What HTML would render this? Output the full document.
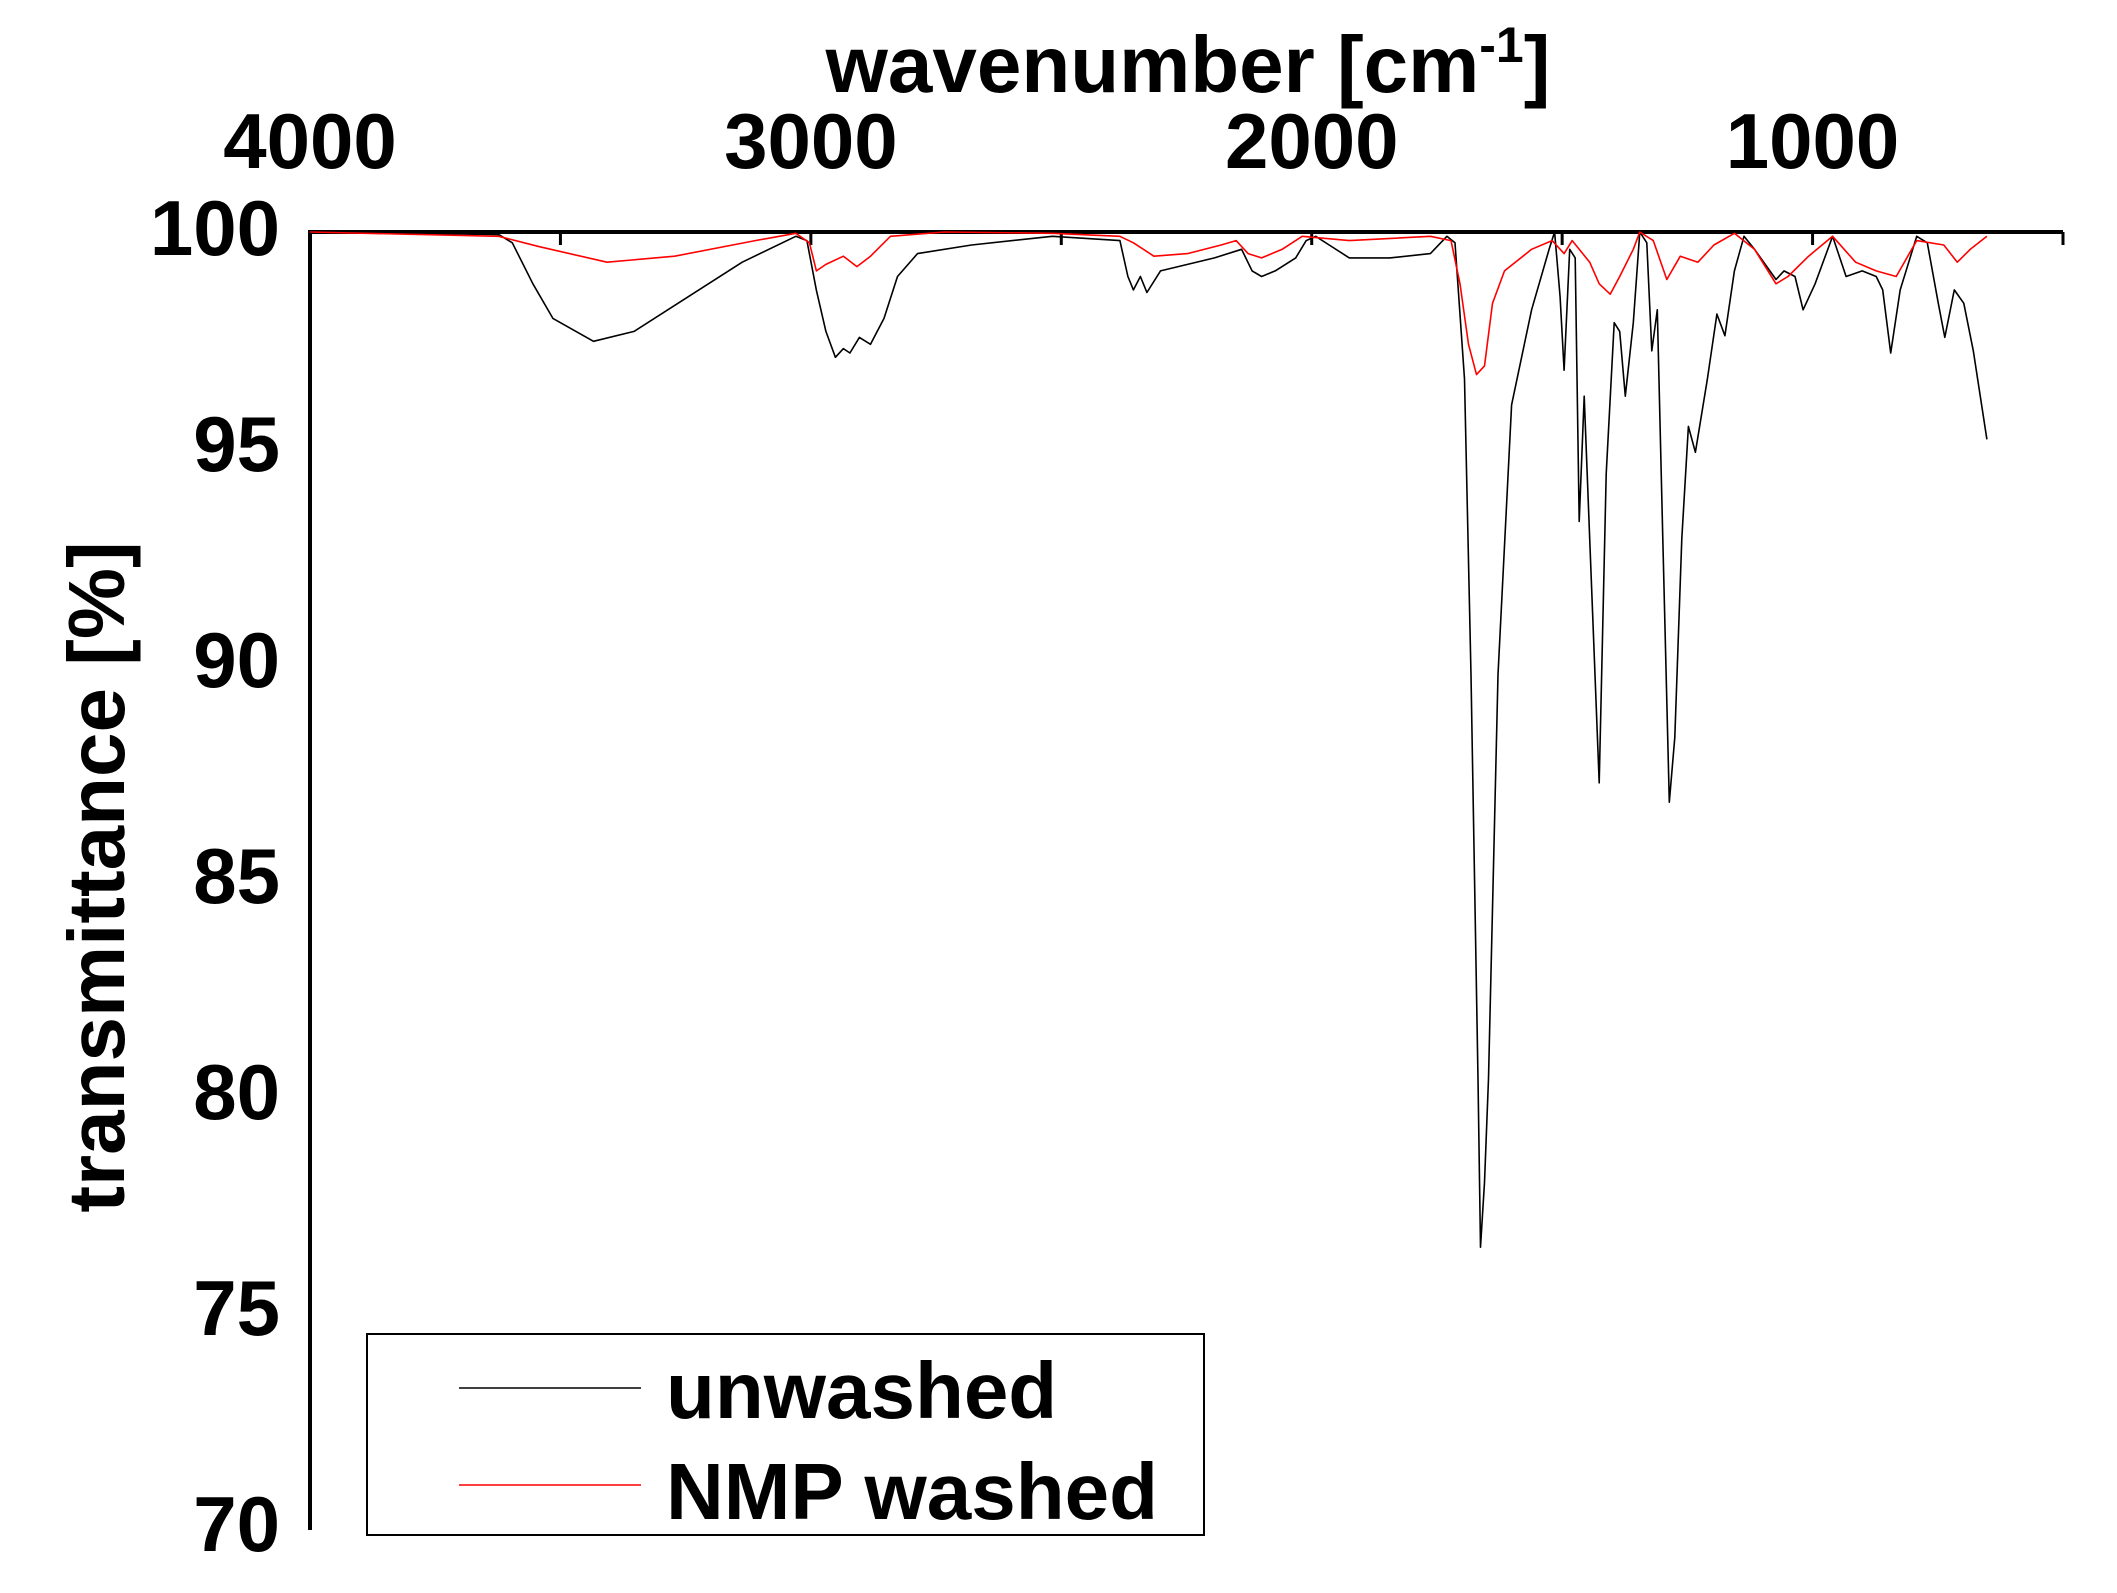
<!DOCTYPE html>
<html><head><meta charset="utf-8"><style>
html,body{margin:0;padding:0;background:#fff}
svg{display:block}
text{font-family:"Liberation Sans",sans-serif;font-weight:bold;fill:#000}
</style></head><body>
<svg id="chart" width="2117" height="1593" viewBox="0 0 2117 1593" xmlns="http://www.w3.org/2000/svg">
<g id="axes"></g>
<g id="series"></g>
<text x="1188" y="92" font-size="80" text-anchor="middle">wavenumber [cm<tspan font-size="50" dy="-30">-1</tspan><tspan dy="30">]</tspan></text>
<text x="0" y="0" font-size="80" text-anchor="middle" transform="translate(124,877) rotate(-90)">transmittance [%]</text>
<g>
<rect x="367" y="1334" width="837" height="201" fill="#fff" stroke="#000" stroke-width="2"/>
<line x1="459" y1="1388" x2="641" y2="1388" stroke="#000" stroke-width="1.5"/>
<text x="666" y="1418" font-size="80">unwashed</text>
<line x1="459" y1="1485" x2="641" y2="1485" stroke="#f00" stroke-width="1.5"/>
<text x="666" y="1519" font-size="80">NMP washed</text>
</g>
</svg>
<script>
const xTicks=[4000,3500,3000,2500,2000,1500,1000,500];
const xTickLabels=["4000","","3000","","2000","","1000",""];
const yTicks=[100,95,90,85,80,75,70];
const yTickLabels=["100","95","90","85","80","75","70"];
const unwashedWn=[4000,3623,3596,3555,3515,3434,3353,3245,3137,3030,3008,2989,2970,2951,2935,2922,2903,2881,2854,2827,2787,2679,2518,2383,2367,2356,2342,2329,2302,2194,2140,2119,2100,2073,2032,2011,1992,1965,1925,1844,1763,1730,1714,1695,1682,1668,1663,1655,1647,1628,1601,1561,1526,1515,1504,1496,1485,1474,1466,1456,1445,1426,1412,1396,1385,1374,1358,1345,1331,1321,1310,1299,1286,1275,1261,1248,1234,1210,1191,1175,1156,1137,1116,1073,1057,1035,1019,995,960,933,901,873,860,844,825,792,771,749,736,717,698,679,652];
const unwashedT=[100,99.94,99.75,98.8,98.0,97.47,97.7,98.5,99.3,99.9,99.8,98.65,97.7,97.1,97.3,97.2,97.56,97.4,98.0,98.97,99.5,99.7,99.9,99.8,98.97,98.66,98.97,98.6,99.1,99.4,99.6,99.1,98.97,99.1,99.4,99.8,99.9,99.7,99.4,99.4,99.5,99.9,99.75,96.6,89.75,80.4,76.5,78.0,80.4,89.75,96.0,98.2,99.6,100,98.5,96.8,99.6,99.4,93.3,96.2,92.9,87.25,94.4,97.9,97.7,96.2,97.9,100,99.75,97.25,98.2,92.9,86.8,88.3,92.9,95.5,94.9,96.6,98.1,97.6,99.1,99.9,99.6,98.9,99.1,98.97,98.2,98.8,99.9,98.97,99.1,98.97,98.66,97.2,98.66,99.9,99.75,98.35,97.56,98.66,98.35,97.25,95.2];
const nmpWn=[4000,3623,3542,3407,3272,3111,3030,3003,2989,2970,2935,2908,2881,2841,2733,2518,2383,2356,2315,2248,2181,2151,2127,2100,2059,2019,1925,1763,1722,1704,1687,1671,1655,1639,1615,1561,1520,1496,1480,1445,1426,1404,1385,1358,1345,1318,1291,1264,1229,1197,1156,1116,1073,1049,1008,960,914,873,833,792,738,711,685,652];
const nmpT=[100,99.9,99.66,99.3,99.44,99.8,99.97,99.75,99.1,99.25,99.44,99.2,99.44,99.9,100,99.97,99.9,99.75,99.44,99.5,99.7,99.8,99.5,99.4,99.6,99.9,99.8,99.9,99.8,98.8,97.4,96.7,96.9,98.35,99.1,99.6,99.8,99.5,99.8,99.3,98.8,98.56,98.97,99.6,100,99.8,98.9,99.44,99.3,99.7,99.97,99.6,98.8,98.97,99.44,99.9,99.3,99.1,98.97,99.8,99.7,99.3,99.6,99.9];

const NS="http://www.w3.org/2000/svg";
const X0=310,X1=2063,Y0=232,Y1=1528;
function xs(w){return X0+(4000-w)/(4000-500)*(X1-X0);}
function ys(t){return Y0+(100-t)/30*(Y1-Y0);}
const axes=document.getElementById('axes');
function mk(tag,attrs,parent){const e=document.createElementNS(NS,tag);for(const k in attrs)e.setAttribute(k,attrs[k]);parent.appendChild(e);return e;}
const yl=mk('line',{x1:X0,y1:Y0,x2:X0,y2:Y1+2,stroke:'#000','stroke-width':4},axes);


const xl=mk('line',{x1:X0-2,y1:Y0,x2:X1,y2:Y0,stroke:'#000','stroke-width':4},axes);


xTicks.forEach((w,i)=>{
  const t=mk('line',{x1:xs(w),y1:Y0,x2:xs(w),y2:Y0+13,stroke:'#000','stroke-width':3},axes);
  
  
  if(xTickLabels[i]){
    const l=mk('text',{x:xs(w),y:168,'font-size':78,'text-anchor':'middle'},axes);
    l.textContent=xTickLabels[i];
    
    
  }
});
yTicks.forEach((v,i)=>{
  const l=mk('text',{x:280,y:ys(v)+23,'font-size':78,'text-anchor':'end'},axes);
  l.textContent=yTickLabels[i];
  
  
});
const series=document.getElementById('series');
function draw(wn,t,color,name){
  const p=mk('polyline',{points:wn.map((w,i)=>xs(w).toFixed(1)+','+ys(t[i]).toFixed(1)).join(' '),fill:'none',stroke:color,'stroke-width':1.6,'stroke-linejoin':'round'},series);
  
  
}
draw(unwashedWn,unwashedT,'#000','unwashed-line');
draw(nmpWn,nmpT,'#f00','nmp-washed-line');
</script>
</body></html>
